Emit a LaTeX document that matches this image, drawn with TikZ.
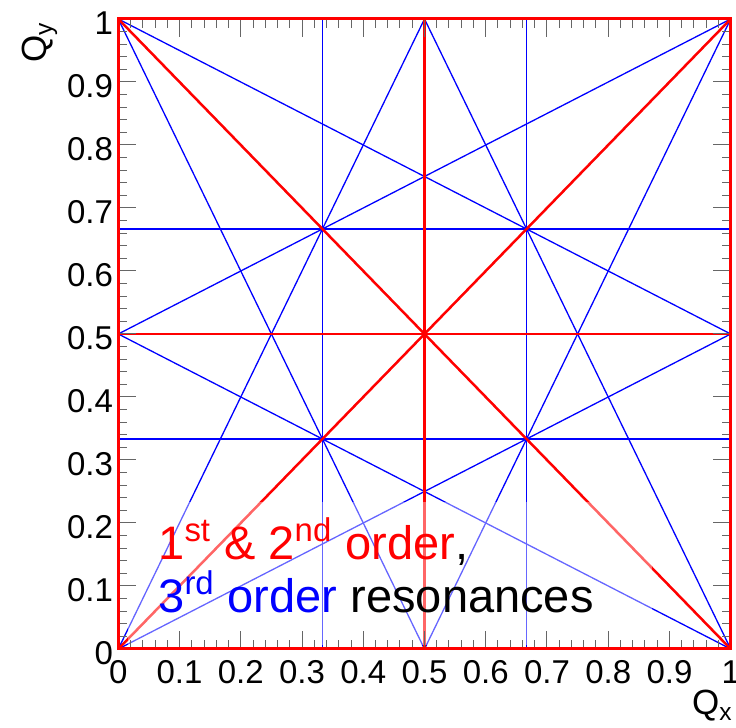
\documentclass[tikz,border=0pt]{standalone}
\usepackage{fontspec}
\setmainfont{Liberation Sans}

\begin{document}
\begin{tikzpicture}[x=0.5pt,y=0.5pt,
    first/.style={red,line width=1.25pt},
    third/.style={blue,line width=0.65pt},
    tickmark/.style={black!60,line width=0.5pt},
    ticklabel/.style={font=\fontsize{16.5}{16.5}\selectfont,inner sep=0pt},
    axistitle/.style={font=\fontsize{17.5}{17.5}\selectfont,inner sep=0pt},
    legend/.style={font=\fontsize{23.5}{23.5}\selectfont,inner sep=0pt,anchor=base west}
]
\useasboundingbox (0,0) rectangle (736,728);

% resonance lines in tune units
\begin{scope}[shift={(59.15pt,39.5pt)},x=306.2pt,y=315pt]
\coordinate (ll) at (0,0);
\coordinate (lr) at (1,0);
\coordinate (ul) at (0,1);
\coordinate (ur) at (1,1);
\coordinate (bm) at (0.5,0);
\coordinate (tm) at (0.5,1);
\coordinate (lm) at (0,0.5);
\coordinate (rm) at (1,0.5);

% 3rd order
\foreach \v in {1/3,2/3} {
    \draw[third] (\v,0) -- (\v,1);
    \draw[third] (0,\v) -- (1,\v);
}
\draw[third] (ll) -- (rm) (ll) -- (tm);
\draw[third] (ul) -- (rm) (ul) -- (bm);
\draw[third] (ur) -- (lm) (ur) -- (bm);
\draw[third] (lr) -- (lm) (lr) -- (tm);

% 1st and 2nd order
\draw[first] (ll) -- (ur);
\draw[first] (ul) -- (lr);
\draw[first] (bm) -- (tm);
\draw[first] (lm) -- (rm);
\end{scope}

% legend background
\fill[white,opacity=0.4] (128,83) rectangle (652,226);

\begin{scope}[shift={(59.15pt,39.5pt)},x=306.2pt,y=315pt]
\foreach \i in {0,...,50} {
    \pgfmathsetmacro\len{ifthenelse(mod(\i,5)==0,9,4.5)}
    \draw[tickmark] (\i/50,0) -- ++(0pt,\len pt);
    \draw[tickmark] (\i/50,1) -- ++(0pt,-\len pt);
    \draw[tickmark] (0,\i/50) -- ++(\len pt,0pt);
    \draw[tickmark] (1,\i/50) -- ++(-\len pt,0pt);
}
\draw[red,line width=1.5pt] (ll) rectangle (ur);

\foreach \i in {0,...,10} {
    \node[ticklabel,anchor=north] (xlab\i) at ([yshift=-5.5pt]\i/10,0)
        {\ifnum\i=0 0\else\ifnum\i=10 1\else 0.\i\fi\fi};
    \node[ticklabel,anchor=east] (ylab\i) at ([xshift=-2.5pt,yshift=-2pt]0,\i/10)
        {\ifnum\i=0 0\else\ifnum\i=10 1\else 0.\i\fi\fi};
}
\end{scope}

\node[axistitle,anchor=south east] (qx) at (733,6) {Q\textsubscript{x}};
\node[axistitle,anchor=base east,rotate=90] (qy) at (47,706) {Q\textsubscript{y}};

\node[legend] (leg1) at (158,168)
    {\color{red}1\textsuperscript{st} \& 2\textsuperscript{nd} order\color{black},};
\node[legend] (leg2) at (158,115)
    {\color{blue}3\textsuperscript{rd} order \color{black}resonances};
\end{tikzpicture}
\end{document}
